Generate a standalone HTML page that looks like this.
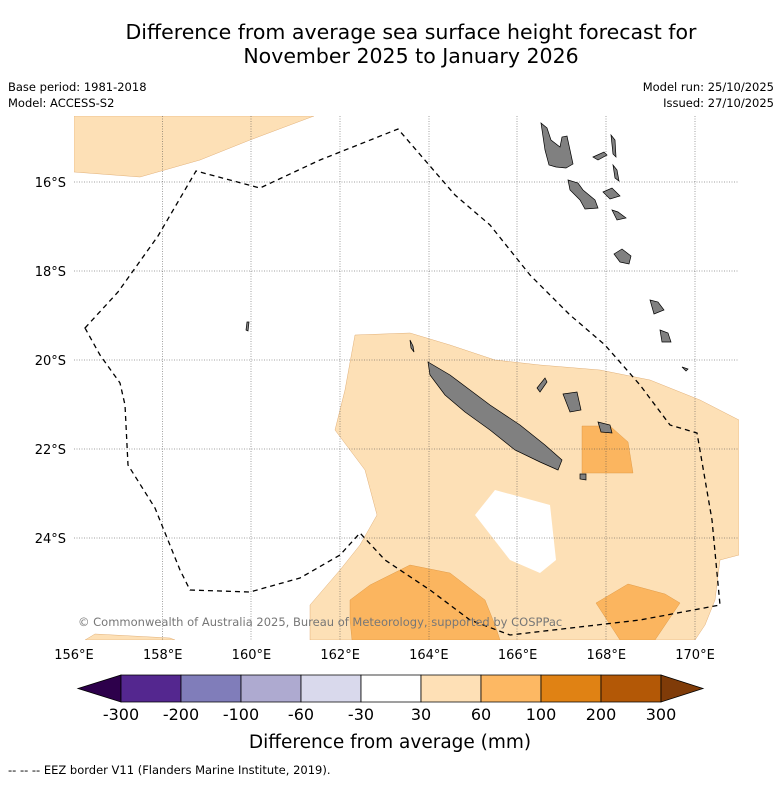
<!DOCTYPE html>
<html><head><meta charset="utf-8"><style>
body{margin:0;background:#fff;width:781px;height:781px;overflow:hidden;font-family:"DejaVu Sans","Liberation Sans",sans-serif}
svg text{font-family:"DejaVu Sans","Liberation Sans",sans-serif}
</style></head><body>
<svg id="chart" width="781" height="781" xmlns="http://www.w3.org/2000/svg">
<text x="411" y="39" font-size="20.5" text-anchor="middle">Difference from average sea surface height forecast for</text>
<text x="411" y="63" font-size="20.5" text-anchor="middle">November 2025 to January 2026</text>
<text x="8" y="91" font-size="11.5">Base period: 1981-2018</text>
<text x="8" y="107" font-size="11.5">Model: ACCESS-S2</text>
<text x="774" y="91" font-size="11.5" text-anchor="end">Model run: 25/10/2025</text>
<text x="774" y="107" font-size="11.5" text-anchor="end">Issued: 27/10/2025</text>
<defs><clipPath id="mc"><rect x="74" y="116" width="665" height="524"/></clipPath></defs>
<g clip-path="url(#mc)">
<g fill="#fde0b6" stroke="#d9a060" stroke-width="0.4">
<path d="M74,116L314,116L250,140L200,160L140,177L74,172Z"/>
<path d="M355,335L410,333L450,345L495,360L540,365L600,370L650,380L700,400L739,420L739,555L720,560L715,600L705,625L695,640L310,640L310,605L340,570L360,545L377,515L365,470L335,430L345,390Z"/>
<path d="M85,640L95,634L170,638L175,640Z"/>
</g>
<path d="M495,490L550,505L556,560L540,573L510,560L475,515Z" fill="#fff"/>
<g fill="#fbb55f" stroke="#d9903a" stroke-width="0.4">
<path d="M582,426L610,426L628,442L633,473L582,473Z"/>
<path d="M350,600L370,585L410,565L450,573L485,600L495,625L500,640L352,640L350,620Z"/>
<path d="M596,603L628,584L665,594L680,603L655,640L620,640Z"/>
</g>
<g stroke="#444" stroke-width="0.5" stroke-dasharray="1,1.5">
<line x1="162.6" y1="116" x2="162.6" y2="640"/><line x1="251" y1="116" x2="251" y2="640"/><line x1="340" y1="116" x2="340" y2="640"/><line x1="429" y1="116" x2="429" y2="640"/><line x1="517" y1="116" x2="517" y2="640"/><line x1="606" y1="116" x2="606" y2="640"/><line x1="695" y1="116" x2="695" y2="640"/>
<line x1="74" y1="182" x2="739" y2="182"/><line x1="74" y1="271" x2="739" y2="271"/><line x1="74" y1="360" x2="739" y2="360"/><line x1="74" y1="449" x2="739" y2="449"/><line x1="74" y1="538" x2="739" y2="538"/>
</g>
<path d="M85,328L118,292L158,236L196,171L260,188L320,160L398,129L455,195L490,225L530,275L570,315L605,345L640,385L670,425L697,433L712,520L720,605L640,620L510,635L470,620L430,590L385,560L360,533L340,555L300,578L250,592L190,590L180,570L155,508L128,465L125,405L120,383L100,355Z" fill="none" stroke="#000" stroke-width="1.3" stroke-dasharray="5,4"/>
<g fill="#808080" stroke="#000" stroke-width="0.7">
<path d="M428,362L450,375L470,390L490,405L520,425L545,445L562,460L558,470L540,462L515,450L490,430L465,412L445,395L430,375Z"/>
<path d="M541,123L547,128L551,140L560,147L562,137L567,136L570,150L573,164L566,168L556,167L549,165L545,150Z"/>
<path d="M568,180L578,183L583,190L595,200L598,208L585,209L580,200L570,190Z"/>
<path d="M593,157L604,152L607,155L598,160Z"/>
<path d="M611,135L615,140L616,157L613,154Z"/>
<path d="M613,165L617,170L619,181L615,178Z"/>
<path d="M603,192L612,188L620,196L610,199Z"/>
<path d="M612,210L618,212L626,218L617,220Z"/>
<path d="M614,254L622,249L631,256L629,264L620,262Z"/>
<path d="M650,300L658,302L664,310L654,314Z"/>
<path d="M660,330L668,333L671,342L662,342Z"/>
<path d="M682,367L688,369L686,371Z"/>
<path d="M563,394L577,392L581,410L570,412Z"/>
<path d="M598,422L610,425L612,433L601,432Z"/>
<path d="M537,388L545,378L547,382L540,392Z"/>
<path d="M580,474L586,474L586,480L580,479Z"/>
<path d="M247,322L249,322L248,331L246,330Z"/>
<path d="M410,340L413,346L414,352L411,348Z"/>
</g>
<text x="78" y="626" font-size="11.5" fill="#777">© Commonwealth of Australia 2025, Bureau of Meteorology, supported by COSPPac</text>
</g>
<g id="axes" font-size="13"></g>
<g id="cbar"></g>
<text x="390" y="748" font-size="18.5" text-anchor="middle">Difference from average (mm)</text>
<text x="8" y="774" font-size="11.5">-- -- -- EEZ border V11 (Flanders Marine Institute, 2019).</text>
</svg>
<script>
const lonTicks=[156,158,160,162,164,166,168,170];
const latTicks=[16,18,20,22,24];
const levels=[-300,-200,-100,-60,-30,30,60,100,200,300];
const colors=["#54278f","#807dba","#aeaad0","#d9d9ec","#ffffff","#fee0b6","#fdb863","#e08214","#b35806"];
const xLon=l=>74+(l-156)*44.36, yLat=l=>182+(l-16)*44.5;
const ns="http://www.w3.org/2000/svg";
const ax=document.getElementById('axes');
function t(g,x,y,s,a){const e=document.createElementNS(ns,'text');e.setAttribute('x',x);e.setAttribute('y',y);e.setAttribute('text-anchor',a);e.textContent=s;g.appendChild(e);return e;}
lonTicks.forEach(l=>{const e=t(ax,xLon(l),659,l+'°E','middle');

});
latTicks.forEach(l=>{const e=t(ax,66,yLat(l)+5,l+'°S','end');

});
const cb=document.getElementById('cbar');
const bx=i=>121+i*60, y0=675, h=27;
function p(d,f,name){const e=document.createElementNS(ns,'path');e.setAttribute('d',d);e.setAttribute('fill',f);e.setAttribute('stroke','#000');e.setAttribute('stroke-width','0.8');


cb.appendChild(e);}
p(`M${bx(0)},${y0}L78,${y0+h/2}L${bx(0)},${y0+h}Z`,'#2d004b','colorbar-low-extend');
colors.forEach((c,i)=>p(`M${bx(i)},${y0}h60v${h}h-60Z`,c,'colorbar-box'));
p(`M${bx(9)},${y0}L703,${y0+h/2}L${bx(9)},${y0+h}Z`,'#7f3b08','colorbar-high-extend');
cb.setAttribute('font-size','16');
levels.forEach((v,i)=>{const e=t(cb,bx(i),720,String(v),'middle');

});
</script>
</body></html>
